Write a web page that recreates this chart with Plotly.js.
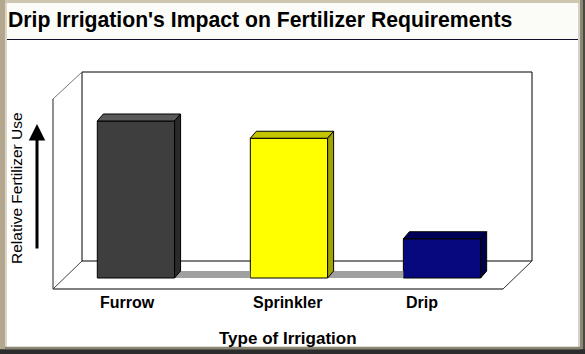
<!DOCTYPE html>
<html>
<head>
<meta charset="utf-8">
<script src="https://cdn.plot.ly/plotly-3.0.1.min.js"></script>
<style>html,body{margin:0;padding:0;background:#fff;}#chart{width:585px;height:354px;}</style>
</head>
<body>
<div id="chart"></div>
<script>
// ---- data ----
const categories = ['Furrow', 'Sprinkler', 'Drip'];
const relativeUse = [100, 89, 25];
const frontColors = ['#3e3e3e', '#ffff00', '#08087e'];
const topColors = ['#5a5a5a', '#c4c400', '#000058'];
const sideColors = ['#2a2a2a', '#a3a300', '#00004a'];
const chartTitle = "Drip Irrigation's Impact on Fertilizer Requirements";
const xTitle = 'Type of Irrigation';
const yTitle = 'Relative Fertilizer Use';

// ---- geometry ----
const W = 585, H = 354;
const L = 53, R = 53, T = 72, Bm = 65;
const PW = W - L - R, PH = H - T - Bm;
const fx = px => (px - L) / PW;
const fy = py => (H - Bm - py) / PH;

const xs = categories.map((c, i) => i);
const barW = 0.505;
const xRange = [-0.542, 2.588];
const yRange = [-7.0, 131.2];
const dx = 6 / (PW / (xRange[1] - xRange[0]));
const dy = 7 / (PH / (yRange[1] - yRange[0]));

const traces = [];
// floor strip between bars
for (let i = 0; i < xs.length - 1; i++) {
  const a = xs[i] + barW / 2, b = xs[i + 1] - barW / 2;
  traces.push({
    type: 'scatter', mode: 'lines', x: [a, b, b, a + dx, a], y: [0, 0, dy, dy, 0],
    fill: 'toself', fillcolor: '#a0a0a0', line: {width: 0}, hoverinfo: 'skip', showlegend: false
  });
}
// front faces
traces.push({
  type: 'bar', x: xs, y: relativeUse, width: barW,
  marker: {color: frontColors, line: {color: '#000', width: 1}},
  hoverinfo: 'skip', showlegend: false
});
// top and side faces
xs.forEach((x, i) => {
  const v = relativeUse[i], l = x - barW / 2, r = x + barW / 2;
  traces.push({
    type: 'scatter', mode: 'lines',
    x: [l, l + dx, r + dx, r, l], y: [v, v + dy, v + dy, v, v],
    fill: 'toself', fillcolor: topColors[i], line: {color: '#000', width: 1},
    hoverinfo: 'skip', showlegend: false
  });
  traces.push({
    type: 'scatter', mode: 'lines',
    x: [r, r + dx, r + dx, r, r], y: [0, dy, v + dy, v, 0],
    fill: 'toself', fillcolor: sideColors[i], line: {color: '#000', width: 1},
    hoverinfo: 'skip', showlegend: false
  });
});

function line(x0, y0, x1, y1, color, width, layer) {
  return {type: 'line', xref: 'paper', yref: 'paper', x0: fx(x0), y0: fy(y0), x1: fx(x1), y1: fy(y1),
    line: {color: color, width: width}, layer: layer || 'below'};
}
function rect(x0, y0, x1, y1, color, layer) {
  return {type: 'rect', xref: 'paper', yref: 'paper', x0: fx(x0), y0: fy(y0), x1: fx(x1), y1: fy(y1),
    fillcolor: color, line: {width: 0}, layer: layer || 'below'};
}

const shapes = [
  rect(0, 0, 585, 39, '#fbfbf7'),
  line(0, 39.5, 585, 39.5, '#10102a', 1),
  // 3D box
  {type: 'rect', xref: 'paper', yref: 'paper', x0: fx(82), y0: fy(261), x1: fx(532), y1: fy(72),
    line: {color: '#000', width: 1}, layer: 'below'},
  line(53, 289, 503, 289, '#000', 1),
  line(53, 99, 53, 289, '#222', 1),
  line(53, 99, 82, 72, '#777', 1),
  line(53, 289, 82, 261, '#444', 1),
  line(503, 289, 532, 261, '#333', 1),
  // outer frame
  rect(0, 0, 585, 3, '#cfc6b1', 'above'),
  rect(0, 0, 5, 354, '#b3a78f', 'above'),
  rect(5, 3, 7, 347, '#ddd6c6', 'above'),
  rect(578, 3, 580, 347, '#d6d2c6', 'above'),
  rect(580, 0, 583, 354, '#8c8774', 'above'),
  rect(583, 0, 585, 354, '#4a4840', 'above'),
  rect(5, 346.7, 583, 349.3, '#8a8570', 'above'),
  rect(0, 349.3, 585, 354, '#2c2c2c', 'above')
];

const annotations = [];
categories.forEach((c, i) => {
  annotations.push({
    xref: 'x', yref: 'paper', x: xs[i] - barW / 2 + 0.005, y: fy(302), xanchor: 'left', yanchor: 'middle',
    text: '<b>' + c + '</b>', showarrow: false,
    font: {family: 'Liberation Sans, Arial, sans-serif', size: 16, color: '#000'}
  });
});
annotations.push({
  xref: 'paper', yref: 'paper', x: fx(288), y: fy(338.5), xanchor: 'center', yanchor: 'middle',
  text: '<b>' + xTitle + '</b>', showarrow: false,
  font: {family: 'Liberation Sans, Arial, sans-serif', size: 17, color: '#000'}
});
annotations.push({
  xref: 'paper', yref: 'paper', x: fx(16), y: fy(188), xanchor: 'center', yanchor: 'middle',
  text: yTitle, textangle: -90, showarrow: false,
  font: {family: 'Liberation Sans, Arial, sans-serif', size: 15.5, color: '#000'}
});
annotations.push({
  xref: 'paper', yref: 'paper', x: fx(37), y: fy(124), text: '', showarrow: true,
  ax: 0, ay: 126, arrowhead: 2, arrowsize: 1.1, arrowwidth: 3, arrowcolor: '#000', standoff: 0
});

const layout = {
  width: W, height: H,
  margin: {l: L, r: R, t: T, b: Bm, pad: 0},
  paper_bgcolor: '#ffffff', plot_bgcolor: 'rgba(0,0,0,0)',
  title: {
    text: '<b>' + chartTitle + '</b>', xref: 'container', yref: 'container',
    x: 8 / W, xanchor: 'left', y: 1 - 20 / H, yanchor: 'middle',
    font: {family: 'Liberation Sans, Arial, sans-serif', size: 21.2, color: '#000'}
  },
  xaxis: {range: xRange, showgrid: false, zeroline: false, showticklabels: false, showline: false, ticks: '', fixedrange: true},
  yaxis: {range: yRange, showgrid: false, zeroline: false, showticklabels: false, showline: false, ticks: '', fixedrange: true},
  bargap: 0,
  shapes: shapes,
  annotations: annotations,
  showlegend: false
};

Plotly.newPlot('chart', traces, layout, {displayModeBar: false, staticPlot: true});
</script>
</body>
</html>
